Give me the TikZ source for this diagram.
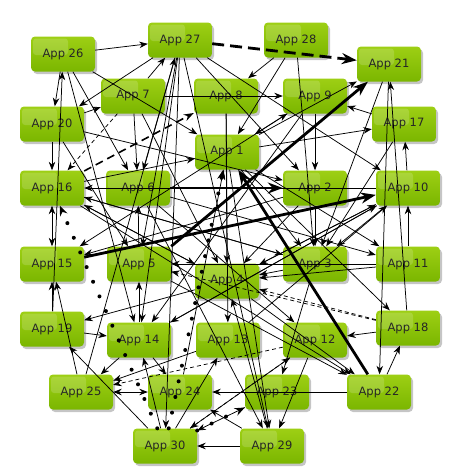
\documentclass[tikz,border=0pt]{standalone}
\usepackage{fontspec}
\newfontfamily\appfont{DejaVu Sans}
\usetikzlibrary{arrows.meta,shadows,calc}
\definecolor{appTop}{RGB}{158,207,20}
\definecolor{appBot}{RGB}{122,182,0}

\tikzset{
  app/.style={rounded corners=4pt,minimum width=64pt,minimum height=35pt,inner sep=0pt,
    top color=appTop,bottom color=appBot,text=black!85,
    font=\appfont\fontsize{11.5pt}{13pt}\selectfont,
    drop shadow={shadow xshift=2pt,shadow yshift=-2.5pt,fill=black!45,opacity=0.5},
    path picture={\fill[white,opacity=0.16,rounded corners=3pt]
      ($(path picture bounding box.north west)+(2pt,-2pt)$) rectangle
      ($(path picture bounding box.center)+(5pt,-1pt)$);}},
  link/.style={-{Stealth[length=8.5pt,width=6.5pt]},line width=0.75pt},
  bothlink/.style={{Stealth[length=8.5pt,width=6.5pt]}-{Stealth[length=8.5pt,width=6.5pt]},line width=0.75pt},
  heavy/.style={-{Stealth[length=15pt,width=11pt]},line width=2.8pt},
  heavydash/.style={heavy,dash pattern=on 12pt off 6pt},
  middash/.style={-{Stealth[length=10pt,width=7pt]},line width=1.6pt,dash pattern=on 8pt off 5pt},
  thindash/.style={link,dash pattern=on 4pt off 3pt},
  dotlink/.style={-{Stealth[length=10pt,width=8pt]},line width=4pt,line cap=round,dash pattern=on 0pt off 16pt},
}

\begin{document}
\begin{tikzpicture}[x=1pt,y=-1pt]
  \useasboundingbox (0,0) rectangle (458,472);
  % apps, row by row
  \node[app] (app26) at (63,54)  {App 26};
  \node[app] (app27) at (180,40) {App 27};
  \node[app] (app28) at (296,40) {App 28};
  \node[app] (app21) at (389,64) {App 21};
  \node[app] (app7)  at (133,96) {App 7};
  \node[app] (app8)  at (226,96) {App 8};
  \node[app] (app9)  at (315,96) {App 9};
  \node[app] (app20) at (52,124) {App 20};
  \node[app] (app17) at (404,124) {App 17};
  \node[app] (app1)  at (227,152) {App 1};
  \node[app] (app16) at (52,188) {App 16};
  \node[app] (app6)  at (138,188) {App 6};
  \node[app] (app2)  at (315,188) {App 2};
  \node[app] (app10) at (408,188) {App 10};
  \node[app] (app15) at (52,264) {App 15};
  \node[app] (app5)  at (139,264) {App 5};
  \node[app] (app4)  at (227,281) {App 4};
  \node[app] (app3)  at (315,264) {App 3};
  \node[app] (app11) at (408,264) {App 11};
  \node[app] (app19) at (52,329) {App 19};
  \node[app] (app14) at (139,340) {App 14};
  \node[app] (app13) at (228,340) {App 13};
  \node[app] (app12) at (315,340) {App 12};
  \node[app] (app18) at (408,328) {App 18};
  \node[app] (app25) at (81,392) {App 25};
  \node[app] (app24) at (180,392) {App 24};
  \node[app] (app23) at (277,392) {App 23};
  \node[app] (app22) at (379,392) {App 22};
  \node[app] (app30) at (165,446) {App 30};
  \node[app] (app29) at (272,446) {App 29};

  % thin links
  \foreach \s/\t in {26/27,26/20,19/26,27/20,20/7,7/27,26/1,26/6,26/14,7/6,7/9,
      20/16,20/2,20/5,27/6,27/5,27/14,27/30,27/29,27/10,27/2,25/27,28/8,28/1,
      28/3,17/9,1/21,9/2,21/22,18/21,10/17,11/10,1/17,21/3,17/3,10/16,4/16,
      3/16,5/6,6/11,1/11,2/3,1/3,10/3,4/10,13/10,14/10,7/4,8/4,2/4,10/4,11/4,
      3/4,16/4,29/4,22/24,29/30,30/19,19/14,30/14,14/24,30/13,14/25,13/25,
      3/23,18/12,22/18,5/22,4/22,12/29,1/29,23/30,29/24,30/12,19/15,25/15,
      4/19,14/5,16/1,24/1,1/18,16/3,9/15,8/13,6/29,6/12,16/22,9/14,2/15,
      11/5,10/14}
    \draw[link] (app\s) -- (app\t);
  \draw[bothlink] (app1) -- (app9);
  \draw[bothlink] (app25) -- (app24);
  \draw[bothlink] (app16) -- (app15);

  % dashed links
  \draw[heavydash] (app27) -- (app21);
  \draw[middash] (app16) -- (app8);
  \foreach \s/\t in {7/16,18/4,18/5,12/25,12/30}
    \draw[thindash] (app\s) -- (app\t);

  % dotted links
  \foreach \s/\t in {30/16,30/23,30/1}
    \draw[dotlink] (app\s) -- (app\t);

  % heavy links
  \draw[heavy] (app22) -- (app1);
  \draw[heavy] (app6) -- (app2);
  \draw[heavy] (app15) -- (app10);
  \draw[heavy] (app5.north east) -- (app21);
\end{tikzpicture}
\end{document}
